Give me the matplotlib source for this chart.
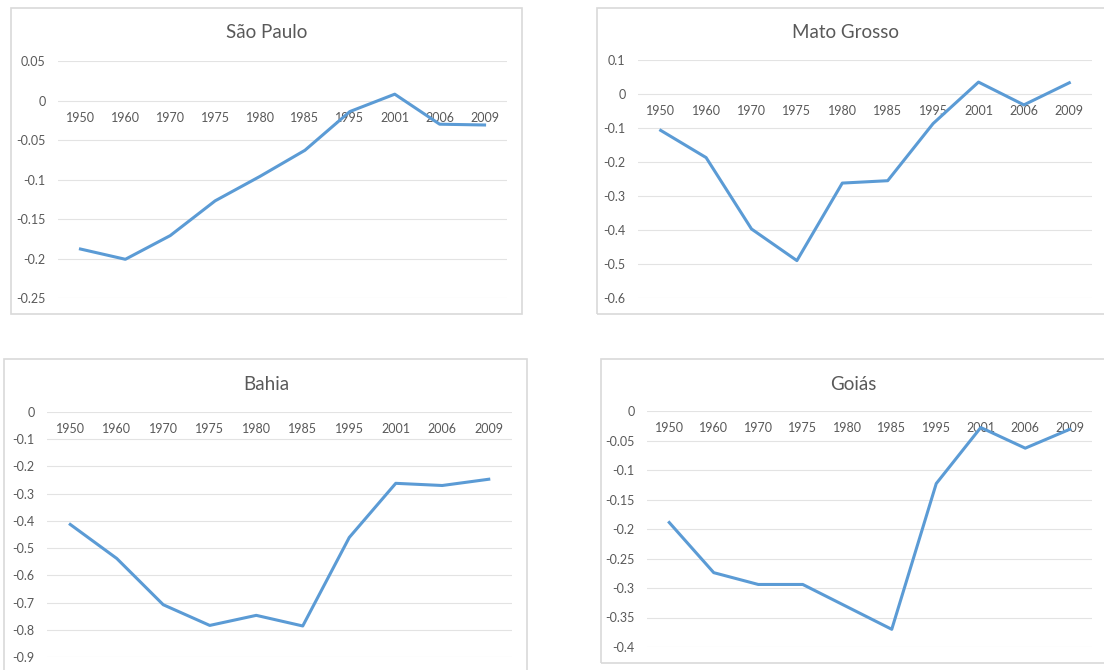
import matplotlib.pyplot as plt
from matplotlib.patches import Rectangle

years = ["1950", "1960", "1970", "1975", "1980", "1985", "1995", "2001", "2006", "2009"]

sao_paulo = [-0.188, -0.201, -0.171, -0.127, -0.096, -0.063, -0.014, 0.008, -0.030, -0.031]
mato_grosso = [-0.107, -0.187, -0.397, -0.490, -0.262, -0.255, -0.087, 0.035, -0.032, 0.033]
bahia = [-0.413, -0.538, -0.708, -0.784, -0.747, -0.786, -0.461, -0.262, -0.270, -0.247]
goias = [-0.189, -0.274, -0.294, -0.294, -0.332, -0.370, -0.123, -0.028, -0.063, -0.031]

W, H = 1104, 670
LINE = "#5B9BD5"
GRID = "#E3E3E3"
BORDER = "#D9D9D9"
TEXT = "#595959"

plt.rcParams["font.family"] = ["Lato", "DejaVu Sans"]

fig = plt.figure(figsize=(W / 100, H / 100), dpi=100)


def px_rect(x0, y0, x1, y1):
    # pixel box (top-left origin) -> figure fraction [left, bottom, width, height]
    return [x0 / W, 1 - y1 / H, (x1 - x0) / W, (y1 - y0) / H]


def chart(box, plot, title, title_xy, values, ylim, step, fmt):
    bx = px_rect(*box)
    fig.patches.append(Rectangle((bx[0], bx[1]), bx[2], bx[3], transform=fig.transFigure,
                                 fill=False, edgecolor=BORDER, linewidth=1.2))
    ax = fig.add_axes(px_rect(*plot))
    x = list(range(len(years)))
    ax.plot(x, values, color=LINE, linewidth=2.2, solid_joinstyle="round", zorder=3)
    ax.set_xlim(-0.5, len(years) - 0.5)
    ax.set_ylim(*ylim)
    n = int(round((ylim[1] - ylim[0]) / step))
    ticks = [ylim[0] + i * step for i in range(n + 1)]
    ax.set_yticks(ticks)
    ax.set_yticklabels([fmt(t) for t in ticks])
    ax.set_xticks(x)
    ax.set_xticklabels(years)
    ax.grid(axis="y", color=GRID, linewidth=0.8)
    ax.set_axisbelow(True)
    for s in ax.spines.values():
        s.set_visible(False)
    # category labels sit just under the zero line
    ax.spines["bottom"].set_position(("data", 0))
    ax.tick_params(axis="x", length=0, pad=8, labelsize=9, labelcolor=TEXT)
    ax.tick_params(axis="y", length=0, pad=9, labelsize=9, labelcolor=TEXT)
    fig.text(title_xy[0] / W, 1 - title_xy[1] / H, title, ha="center", va="center",
             fontsize=13.5, color=TEXT)
    return ax


def fmt_num(v):
    v = round(v, 2)
    if abs(v) < 1e-9:
        return "0"
    return "%g" % v


chart((11, 8, 522, 314), (58, 61, 507, 298), "São Paulo", (267, 33),
      sao_paulo, (-0.25, 0.05), 0.05, fmt_num)
chart((597, 8, 1110, 314), (638, 60, 1092, 298), "Mato Grosso", (845, 33),
      mato_grosso, (-0.6, 0.1), 0.1, fmt_num)
chart((4, 359, 527, 690), (47, 412, 512, 657), "Bahia", (266, 384),
      bahia, (-0.9, 0.0), 0.1, fmt_num)
chart((601, 359, 1110, 663), (647, 411, 1092, 647), "Goiás", (853, 384),
      goias, (-0.4, 0.0), 0.05, fmt_num)

fig.savefig("out.png", dpi=100, facecolor="white")
